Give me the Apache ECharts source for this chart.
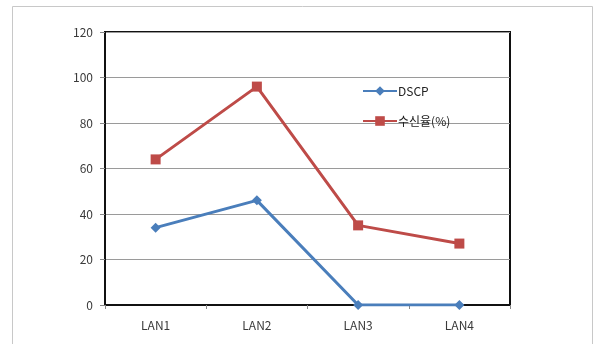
<!DOCTYPE html>
<html>
<head>
<meta charset="utf-8">
<script src="https://cdn.jsdelivr.net/npm/echarts@6/dist/echarts.min.js"></script>
<style>
  html, body { margin: 0; padding: 0; background: #fff; }
  #chart { width: 600px; height: 344px; }
</style>
</head>
<body>
<div id="chart"></div>
<script>
// Network segments along the x axis
const categories = ['LAN1', 'LAN2', 'LAN3', 'LAN4'];
// DSCP values per segment
const dscpValues = [34, 46, 0, 0];
// Reception rate (%) per segment
const receptionValues = [64, 96, 35, 27];
// Value axis range
const yMin = 0, yMax = 120, yStep = 20;

const chart = echarts.init(document.getElementById('chart'), null, { renderer: 'canvas' });

const labelFont = { fontFamily: '"Noto Sans CJK KR", "Noto Sans", sans-serif', fontSize: 12, color: '#3a3a3a' };

chart.setOption({
  backgroundColor: '#fff',
  animation: false,
  graphic: [{
    type: 'rect',
    shape: { x: 12.5, y: 6.5, width: 580, height: 350 },
    style: { fill: 'none', stroke: '#c8c8c8', lineWidth: 1 },
    z: -1
  }],
  grid: {
    left: 105, right: 90, top: 32, bottom: 39,
    show: true, borderColor: '#111', borderWidth: 2, backgroundColor: 'transparent'
  },
  legend: {
    orient: 'vertical',
    left: 357, top: 80,
    itemGap: 18,
    itemWidth: 34, itemHeight: 12,
    textStyle: { ...labelFont, fontSize: 12, color: '#222', padding: [0, 0, 0, -4] },
    data: ['DSCP', '수신율(%)']
  },
  xAxis: {
    type: 'category',
    data: categories,
    boundaryGap: true,
    axisLine: { lineStyle: { color: '#111', width: 2 } },
    axisTick: { show: true, length: 4, lineStyle: { color: '#888' } },
    axisLabel: { ...labelFont, margin: 14 }
  },
  yAxis: {
    type: 'value',
    min: yMin, max: yMax, interval: yStep,
    axisLine: { show: true, lineStyle: { color: '#111', width: 2 } },
    axisTick: { show: true, length: 5, lineStyle: { color: '#888' } },
    axisLabel: { ...labelFont, margin: 12 },
    splitLine: { show: true, lineStyle: { color: '#9a9a9a', width: 1 } }
  },
  series: [
    {
      name: 'DSCP',
      type: 'line',
      data: dscpValues,
      symbol: 'diamond',
      symbolSize: 10,
      lineStyle: { color: '#4a7ebb', width: 3 },
      itemStyle: { color: '#4a7ebb' }
    },
    {
      name: '수신율(%)',
      type: 'line',
      data: receptionValues,
      symbol: 'rect',
      symbolSize: 10,
      lineStyle: { color: '#be4b48', width: 3 },
      itemStyle: { color: '#be4b48' }
    }
  ]
});
</script>
</body>
</html>
